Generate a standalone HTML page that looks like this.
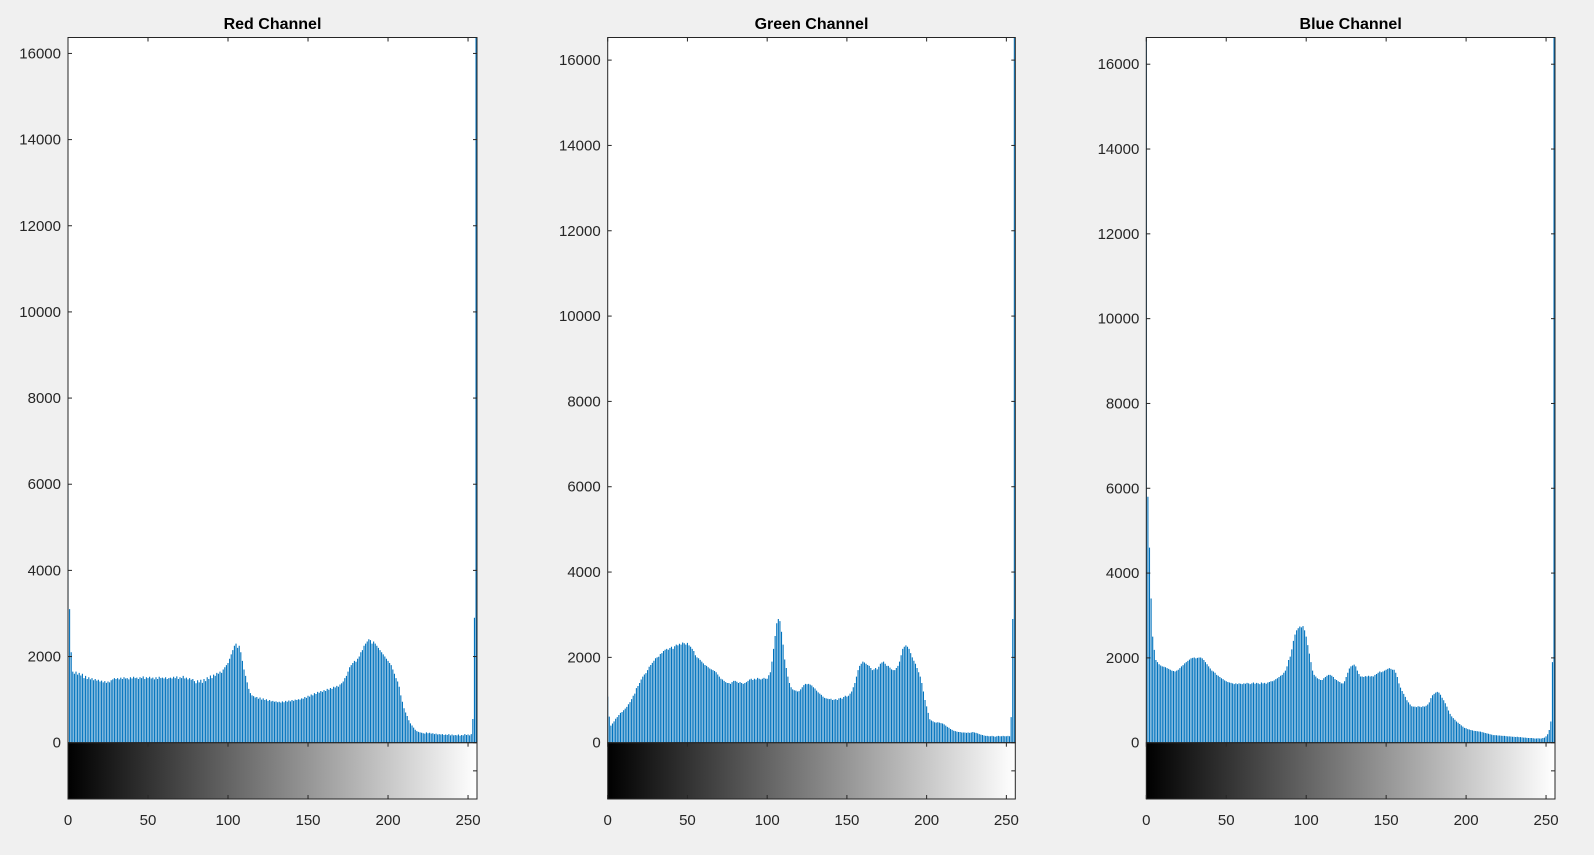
<!DOCTYPE html>
<html><head><meta charset="utf-8"><style>
html,body{margin:0;padding:0;background:#f0f0f0;}
svg{display:block;font-family:"Liberation Sans",Arial,sans-serif;}
</style></head><body>
<svg id="fig" width="1594" height="855" viewBox="0 0 1594 855" xmlns="http://www.w3.org/2000/svg">
<defs>
<linearGradient id="gray" x1="0" x2="1" y1="0" y2="0"><stop offset="0" stop-color="#000"/><stop offset="1" stop-color="#fff"/></linearGradient>
</defs>
<rect width="1594" height="855" fill="#f0f0f0"/>
</svg>
<script>
const yTicks = [0,2000,4000,6000,8000,10000,12000,14000,16000];
const xTicks = [0,50,100,150,200,250];
const titles = ["Red Channel","Green Channel","Blue Channel"];
const redCounts = [6000,3100,2100,1650,1600,1650,1580,1620,1560,1600,1500,1550,1480,1520,1470,1500,
1450,1480,1440,1460,1420,1440,1400,1430,1390,1420,1400,1450,1470,1500,1480,1500,
1470,1510,1480,1520,1490,1500,1470,1520,1490,1530,1500,1510,1480,1520,1500,1540,
1480,1520,1500,1530,1490,1510,1470,1520,1480,1530,1500,1510,1490,1520,1480,1500,
1510,1490,1530,1500,1540,1480,1520,1500,1550,1490,1510,1470,1500,1460,1480,1430,
1380,1450,1400,1460,1390,1480,1430,1520,1480,1560,1500,1580,1550,1620,1600,1650,
1620,1700,1750,1800,1850,1950,2050,2150,2250,2300,2200,2250,2100,1900,1700,1550,
1400,1250,1150,1100,1080,1050,1060,1020,1050,1000,1030,990,1010,970,990,960,
970,950,960,940,950,930,960,940,970,950,980,960,990,970,1000,990,
1010,1000,1030,1020,1060,1040,1090,1070,1120,1100,1150,1130,1180,1160,1200,1180,
1220,1200,1250,1230,1270,1250,1300,1280,1320,1300,1350,1380,1420,1500,1550,1650,
1750,1800,1850,1900,1880,1950,2000,2100,2150,2250,2300,2350,2400,2380,2300,2350,
2300,2250,2200,2150,2100,2050,2000,1950,1900,1850,1800,1700,1600,1500,1420,1300,
1100,950,800,700,620,520,450,400,350,300,270,250,240,230,220,210,
240,220,230,210,220,200,210,190,200,190,200,180,190,180,200,170,
190,170,180,170,190,160,180,170,200,180,190,170,200,550,2900,16500];
const greenCounts = [1080,610,400,450,500,560,600,650,700,720,760,800,840,900,950,1020,
1100,1150,1280,1330,1400,1480,1550,1600,1630,1700,1780,1820,1870,1920,1980,2000,
2016,2080,2100,2150,2180,2200,2180,2220,2250,2200,2260,2300,2280,2320,2300,2350,
2330,2300,2340,2280,2250,2200,2150,2050,2000,1980,1940,1900,1860,1820,1800,1770,
1740,1720,1700,1680,1650,1600,1550,1500,1480,1450,1420,1400,1400,1380,1420,1450,
1450,1430,1400,1420,1400,1380,1400,1420,1450,1480,1500,1470,1500,1480,1520,1500,
1480,1500,1520,1500,1500,1580,1650,1900,2200,2500,2800,2900,2850,2600,2300,1950,
1750,1550,1400,1300,1250,1230,1220,1200,1210,1250,1300,1350,1380,1370,1380,1360,
1340,1300,1270,1220,1180,1150,1120,1080,1050,1040,1030,1020,1030,1000,1010,1020,
1000,1040,1050,1030,1070,1100,1080,1100,1150,1200,1300,1400,1550,1700,1800,1850,
1900,1880,1850,1820,1800,1750,1700,1720,1750,1720,1780,1850,1880,1900,1850,1800,
1800,1760,1720,1700,1700,1750,1800,1900,2050,2200,2250,2280,2250,2200,2100,2000,
1920,1850,1750,1650,1550,1400,1200,1000,850,700,550,520,500,480,470,480,
470,460,450,430,400,370,350,320,300,280,270,260,250,250,240,240,
240,230,240,230,240,250,240,230,220,200,190,180,170,160,160,150,
150,160,150,140,150,160,150,150,160,150,150,160,150,600,2900,16600];
const blueCounts = [16700,5800,4600,3400,2500,2190,1950,1900,1850,1820,1800,1790,1780,1760,1740,1720,
1700,1690,1680,1700,1720,1760,1800,1830,1870,1900,1930,1960,1990,2000,2010,1990,
2000,2010,2010,1990,1950,1900,1850,1800,1750,1700,1680,1650,1600,1580,1550,1520,
1500,1470,1450,1430,1420,1410,1400,1380,1400,1380,1400,1390,1380,1400,1390,1410,
1400,1380,1400,1420,1390,1410,1400,1380,1420,1400,1410,1390,1420,1430,1450,1450,
1470,1500,1520,1550,1580,1600,1650,1700,1800,1950,2030,2200,2400,2550,2650,2700,
2740,2720,2750,2650,2500,2300,2100,1900,1700,1600,1560,1520,1500,1480,1480,1520,
1550,1580,1600,1600,1580,1550,1500,1480,1450,1430,1400,1400,1450,1550,1650,1750,
1800,1820,1840,1800,1700,1620,1560,1560,1550,1570,1560,1580,1560,1570,1560,1600,
1620,1650,1680,1660,1680,1700,1720,1740,1760,1740,1720,1720,1650,1550,1400,1300,
1220,1150,1080,1000,950,900,860,850,850,840,860,850,840,860,850,870,
900,950,1050,1120,1150,1180,1200,1180,1130,1060,1000,930,850,760,680,620,
580,540,500,470,440,410,380,350,340,320,310,300,290,280,275,270,
265,260,250,240,230,220,210,200,190,180,180,175,170,170,165,160,
160,155,150,150,145,140,140,135,140,130,130,125,120,120,115,110,
110,110,105,100,100,105,100,100,110,120,150,200,300,500,1900,16700];
const yMaxes = [16370,16530,16630];

const NS = "http://www.w3.org/2000/svg";
const svg = document.getElementById('fig');
function mk(tag, attrs, parent){const e=document.createElementNS(NS,tag);for(const k in attrs)e.setAttribute(k,attrs[k]);(parent||svg).appendChild(e);return e;}

const panels = [{left:68,right:477},{left:607.7,right:1015.3},{left:1146.3,right:1555}];
const series = [redCounts, greenCounts, blueCounts];
const axTop = 37.5, base = 742.7, cbBottom = 799, xMax = 255.6;

panels.forEach((p, i) => {
  const g = mk('g', {});
  
  
  const xs = v => p.left + v / xMax * (p.right - p.left);
  const ys = v => base - v / yMaxes[i] * (base - axTop);
  const bg = mk('rect', {x:p.left, y:axTop, width:p.right-p.left, height:base-axTop, fill:'#fff'}, g);
  
  
  const cid = 'clip' + i;
  const cp = mk('clipPath', {id:cid}, g);
  mk('rect', {x:p.left, y:axTop, width:p.right-p.left+1, height:base-axTop}, cp);
  const bars = mk('g', {'clip-path':'url(#'+cid+')', stroke:'#0072BD', 'stroke-width':'1.1'}, g);
  
  
  series[i].forEach((c, k) => {
    const x = Math.min(xs(k), p.right - 0.5);
    const l = mk('line', {x1:x, x2:x, y1:base, y2:ys(c)}, bars);
    
    
  });
  const cb = mk('rect', {x:p.left, y:base, width:p.right-p.left, height:cbBottom-base, fill:'url(#gray)', stroke:'#262626', 'stroke-width':'1'}, g);
  
  
  mk('line', {x1:p.right-4, x2:p.right, y1:(base+cbBottom)/2, y2:(base+cbBottom)/2, stroke:'#262626'}, g);
  const box = mk('rect', {x:p.left, y:axTop, width:p.right-p.left, height:base-axTop, fill:'none', stroke:'#262626', 'stroke-width':'1'}, g);
  
  
  yTicks.forEach(t => {
    const y = ys(t);
    mk('line', {x1:p.left, x2:p.left+4, y1:y, y2:y, stroke:'#262626'}, g);
    mk('line', {x1:p.right-4, x2:p.right, y1:y, y2:y, stroke:'#262626'}, g);
    const tx = mk('text', {x:p.left-7, y:y+5, 'text-anchor':'end', 'font-size':'15', fill:'#262626'}, g);
    tx.textContent = t;
    
    
  });
  xTicks.forEach(t => {
    const x = xs(t);
    mk('line', {x1:x, x2:x, y1:axTop, y2:axTop+4, stroke:'#262626'}, g);
    mk('line', {x1:x, x2:x, y1:cbBottom, y2:cbBottom-4, stroke:'#262626'}, g);
    mk('line', {x1:x, x2:x, y1:base, y2:base+4, stroke:'#262626'}, g);
    const tx = mk('text', {x:x, y:825, 'text-anchor':'middle', 'font-size':'15', fill:'#262626'}, g);
    tx.textContent = t;
    
    
  });
  const tt = mk('text', {x:(p.left+p.right)/2, y:29, 'text-anchor':'middle', 'font-size':'16', 'font-weight':'bold', fill:'#000'}, g);
  tt.textContent = titles[i];
  
  
});
</script>
</body></html>
